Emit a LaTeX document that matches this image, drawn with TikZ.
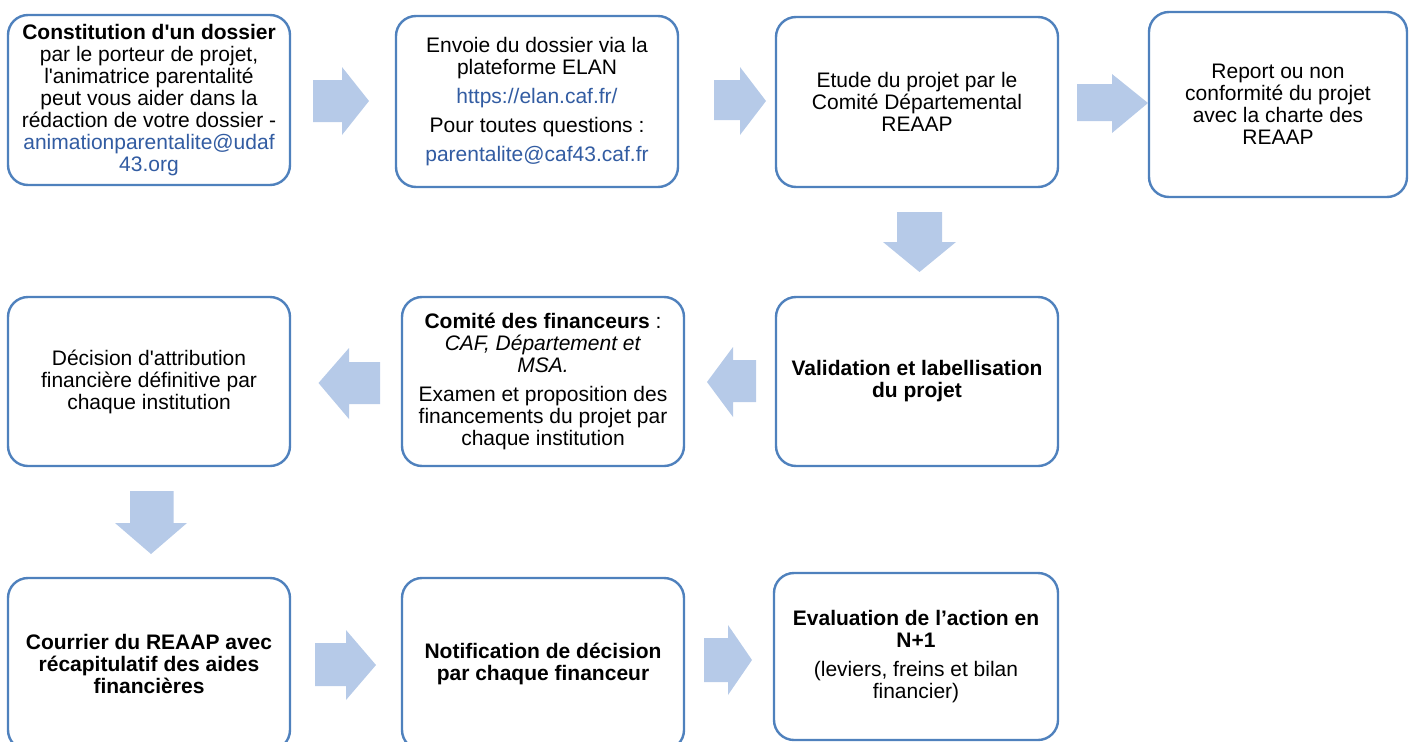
\documentclass[tikz,border=0pt]{standalone}
\usepackage{fontspec}
\setmainfont{Liberation Sans}
\definecolor{boxline}{RGB}{79,129,189}
\definecolor{arrowfill}{RGB}{182,202,232}
\definecolor{linkc}{RGB}{50,92,162}
\newcommand{\sq}{\textquotesingle}
\begin{document}
\begin{tikzpicture}[x=1pt,y=-1pt,
  stepbox/.style={draw=boxline, line width=2.4pt, rounded corners=20pt, fill=white,
    align=center, inner sep=0pt, font=\fontsize{21}{22}\selectfont},
  fatarrow/.style={fill=arrowfill, draw=none}]
\useasboundingbox (0,0) rectangle (1409,742);
\begin{scope}
\clip (0,0) rectangle (1409,742);
% row 1
\node[stepbox, minimum width=282pt, minimum height=170pt] (b1) at (149,100)
  {\textbf{Constitution d\sq un dossier}\\par le porteur de projet,\\l\sq animatrice parentalité\\peut vous aider dans la\\rédaction de votre dossier -\\\textcolor{linkc}{animationparentalite@udaf}\\\textcolor{linkc}{43.org}};
\node[stepbox, minimum width=282pt, minimum height=171pt] (b2) at (537,101.5)
  {Envoie du dossier via la\\plateforme ELAN\\[7pt]\textcolor{linkc}{https://elan.caf.fr/}\\[7pt]Pour toutes questions :\\[7pt]\textcolor{linkc}{parentalite@caf43.caf.fr}};
\node[stepbox, minimum width=282pt, minimum height=170pt] (b3) at (917,102)
  {Etude du projet par le\\Comité Départemental\\REAAP};
\node[stepbox, minimum width=258pt, minimum height=185pt] (b4) at (1278,104.5)
  {Report ou non\\conformité du projet\\avec la charte des\\REAAP};
% row 2
\node[stepbox, minimum width=282pt, minimum height=169pt] (c1) at (149,381.5)
  {Décision d\sq attribution\\financière définitive par\\chaque institution};
\node[stepbox, minimum width=282pt, minimum height=169pt] (c2) at (543,381.5)
  {\textbf{Comité des financeurs} :\\\textit{CAF, Département et}\\\textit{MSA.}\\[7pt]Examen et proposition des\\financements du projet par\\chaque institution};
\node[stepbox, minimum width=282pt, minimum height=169pt] (c3) at (917,381.5)
  {\textbf{Validation et labellisation}\\\textbf{du projet}};
% row 3
\node[stepbox, minimum width=282pt, minimum height=172pt] (d1) at (149,664)
  {\textbf{Courrier du REAAP avec}\\\textbf{récapitulatif des aides}\\\textbf{financières}};
\node[stepbox, minimum width=282pt, minimum height=172pt] (d2) at (543,664)
  {\textbf{Notification de décision}\\\textbf{par chaque financeur}};
\node[stepbox, minimum width=284pt, minimum height=167pt] (d3) at (916,656.5)
  {\textbf{Evaluation de l’action en}\\\textbf{N+1}\\[7pt](leviers, freins et bilan\\financier)};
\end{scope}
% block arrows
\fill[fatarrow] (313,80) -- (342,80) -- (342,67) -- (369,101) -- (342,135) -- (342,122) -- (313,122) -- cycle;
\fill[fatarrow] (714,80) -- (740,80) -- (740,67) -- (766,101) -- (740,135) -- (740,120) -- (714,120) -- cycle;
\fill[fatarrow] (1077,84) -- (1112,84) -- (1112,74) -- (1148,103) -- (1112,133) -- (1112,121) -- (1077,121) -- cycle;
\fill[fatarrow] (897,212) -- (942,212) -- (942,242) -- (956,242) -- (919.5,272) -- (883,242) -- (897,242) -- cycle;
\fill[fatarrow] (756,360) -- (733,360) -- (733,347) -- (707,382) -- (733,417) -- (733,402) -- (756,402) -- cycle;
\fill[fatarrow] (380,362) -- (349,362) -- (349,348) -- (318.5,383) -- (349,419) -- (349,404) -- (380,404) -- cycle;
\fill[fatarrow] (130,491) -- (173.5,491) -- (173.5,523) -- (187,523) -- (151,554) -- (115,523) -- (130,523) -- cycle;
\fill[fatarrow] (315,643) -- (346,643) -- (346,630) -- (376,665) -- (346,700) -- (346,686) -- (315,686) -- cycle;
\fill[fatarrow] (704,638) -- (728,638) -- (728,625) -- (752,660) -- (728,695) -- (728,682) -- (704,682) -- cycle;
\end{tikzpicture}
\end{document}
